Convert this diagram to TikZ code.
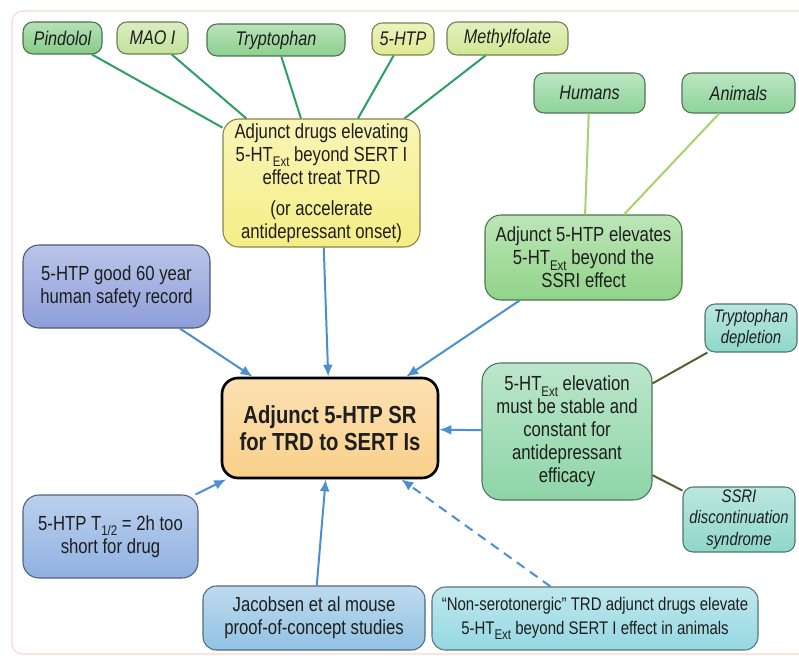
\documentclass[tikz,border=0pt]{standalone}
\usepackage{fontspec}
\setmainfont{Liberation Sans}[FakeStretch=0.82]
\usetikzlibrary{arrows.meta}
\definecolor{txt}{HTML}{1E1E1E}
\definecolor{frame}{HTML}{F7D9CE}
\definecolor{cPin}{HTML}{86CC88}
\definecolor{cMao}{HTML}{C2E29A}
\definecolor{cTrp}{HTML}{8CD08E}
\definecolor{cHtp}{HTML}{E0EA92}
\definecolor{cMet}{HTML}{CFE793}
\definecolor{cHum}{HTML}{8ED49A}
\definecolor{cYel}{HTML}{F5EE86}
\definecolor{cGrn}{HTML}{90D488}
\definecolor{cElv}{HTML}{8ED5A8}
\definecolor{cTeal}{HTML}{8ED7CA}
\definecolor{cSaf}{HTML}{8E9EDA}
\definecolor{cHalf}{HTML}{8FB1E1}
\definecolor{cJac}{HTML}{92C2E3}
\definecolor{cNon}{HTML}{95D8E2}
\definecolor{cCen}{HTML}{FAD08A}
\definecolor{arrowblue}{HTML}{4A8FD2}
\definecolor{linegreen}{HTML}{2E9E62}
\definecolor{lightgreen}{HTML}{A6D36A}
\definecolor{olive}{HTML}{4F6233}
\newcommand\sub[1]{\raisebox{-0.5ex}{\fontsize{10.5}{10.5}\selectfont #1}}
\tikzset{
  sz/.style 2 args={minimum width=#1*0.75pt, minimum height=#2*0.75pt},
  basebox/.style={rounded corners=7.5pt, inner sep=0pt, align=center, text=txt,
    font=\fontsize{15.3}{17.3}\selectfont, line width=0.8pt},
  smallbox/.style={basebox, font=\fontsize{13.6}{15.8}\selectfont\itshape},
  tagbox/.style={basebox, font=\fontsize{14.8}{17}\selectfont\itshape},
  shade/.style={draw=#1!55!black, top color=#1!60!white, bottom color=#1},
  greenline/.style={draw=linegreen, line width=1.5pt},
  lgline/.style={draw=lightgreen, line width=1.5pt},
  oliveline/.style={draw=olive, line width=1.5pt},
  bluearrow/.style={draw=arrowblue, line width=1.5pt, -{Latex[length=9pt,width=7.5pt]}},
}
\begin{document}
\begin{tikzpicture}[x=0.75pt,y=-0.75pt]
\useasboundingbox (0,0) rectangle (799,656);
\begin{scope}
\clip (0,0) rectangle (799,656);
\draw[frame, line width=0.9pt, rounded corners=8pt] (12,11) rectangle (815,654);
\end{scope}
% top tags
\node[tagbox, shade=cPin, sz={79}{32}] (pin) at (62.5,38) {Pindolol};
\node[tagbox, shade=cMao, sz={71}{32}] (mao) at (152.5,38) {MAO I};
\node[tagbox, shade=cTrp, sz={138}{32}] (trp) at (276,40) {Tryptophan};
\node[tagbox, shade=cHtp, sz={62}{32}] (htp) at (403,39) {5-HTP};
\node[tagbox, shade=cMet, sz={121}{33}] (met) at (507.5,38.5) {Methylfolate};
\node[tagbox, shade=cHum, sz={111}{40}] (hum) at (589.5,93) {Humans};
\node[tagbox, shade=cHum, sz={113}{40}] (ani) at (738.5,93) {Animals};
% main boxes
\node[basebox, rounded corners=12pt, shade=cYel, sz={197}{128}] (yel) at (321.5,183)
  {Adjunct drugs elevating\\ 5-HT\sub{Ext} beyond SERT I\\ effect treat TRD\\[6pt] (or accelerate\\ antidepressant onset)};
\node[basebox, rounded corners=12pt, shade=cGrn, sz={197}{85}] (grn) at (583.5,257.5)
  {Adjunct 5-HTP elevates\\ 5-HT\sub{Ext} beyond the\\ SSRI effect};
\node[smallbox, shade=cTeal, sz={92}{48}] (dep) at (751,328) {Tryptophan\\ depletion};
\node[basebox, rounded corners=14pt, shade=cElv, sz={170}{137}] (elv) at (567,431.5)
  {5-HT\sub{Ext} elevation\\ must be stable and\\ constant for\\ antidepressant\\ efficacy};
\node[smallbox, shade=cTeal, sz={112}{65}] (ssri) at (739,519.5) {SSRI\\ discontinuation\\ syndrome};
\node[basebox, rounded corners=12pt, shade=cSaf, sz={187}{83}] (saf) at (116.5,286.5)
  {5-HTP good 60 year\\ human safety record};
\node[basebox, rounded corners=12pt, draw=black, line width=2pt, top color=cCen!65!white, bottom color=cCen,
  sz={216}{100}, font=\fontsize{18.5}{20}\selectfont\bfseries] (cen) at (330,428)
  {Adjunct 5-HTP SR\\ for TRD to SERT Is};
\node[basebox, rounded corners=12pt, shade=cHalf, sz={175}{83}] (half) at (110.5,536.5)
  {5-HTP T\sub{1/2} = 2h too\\ short for drug};
\node[basebox, rounded corners=10pt, shade=cJac, sz={222}{64}] (jac) at (314,618)
  {Jacobsen et al mouse\\ proof-of-concept studies};
\node[basebox, rounded corners=10pt, shade=cNon, sz={326}{63}, font=\fontsize{13.7}{18}\selectfont] (non) at (595,618.5)
  {“Non-serotonergic” TRD adjunct drugs elevate\\ 5-HT\sub{Ext} beyond SERT I effect in animals};
% connectors
\foreach \t in {pin,mao,trp,htp,met} \draw[greenline] (\t) -- (yel);
\draw[lgline] (hum) -- (grn);
\draw[lgline] (ani) -- (grn);
\draw[oliveline] (elv) -- (dep);
\draw[oliveline] (elv) -- (ssri);
\draw[bluearrow] (yel) -- (cen);
\draw[bluearrow] (saf) -- (cen);
\draw[bluearrow] (grn) -- (cen);
\draw[bluearrow] (elv) -- (cen);
\draw[bluearrow] (half) -- (cen);
\draw[bluearrow] (jac) -- (cen);
\draw[bluearrow, dash pattern=on 7pt off 5pt] (non) -- (cen);
\end{tikzpicture}
\end{document}
